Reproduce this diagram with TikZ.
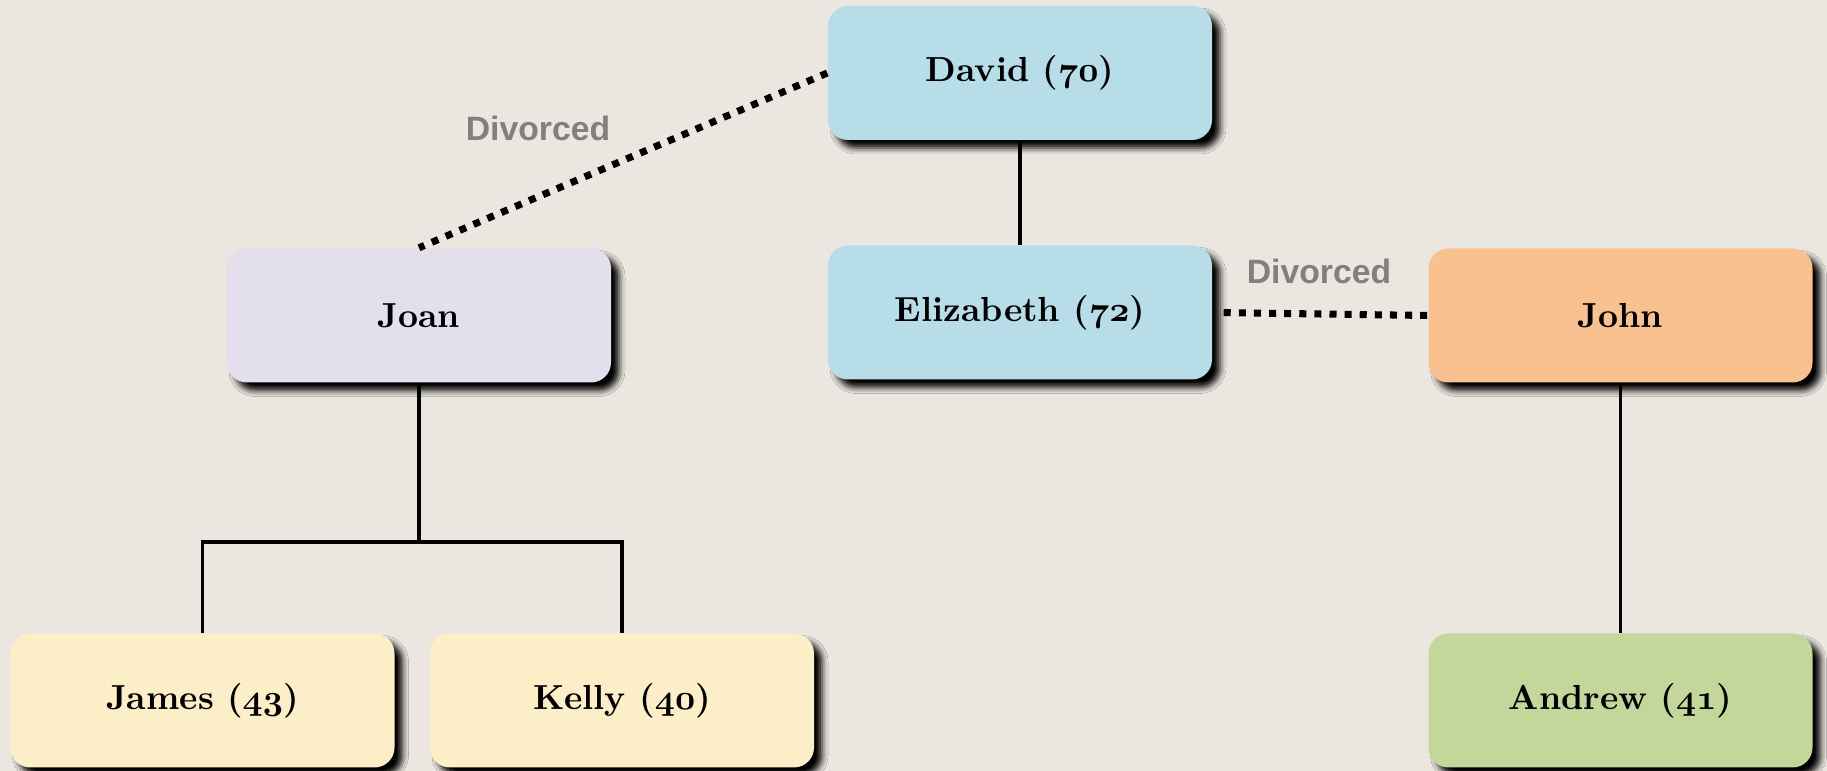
\documentclass[tikz,border=0pt]{standalone}
\usepackage{fontspec}
\newfontfamily\divfont{Liberation Sans}
\usetikzlibrary{shadows.blur}
\definecolor{fondo}{HTML}{EBE7E0}
\definecolor{azul}{HTML}{B7DDE8}
\definecolor{lila}{HTML}{E4DFEC}
\definecolor{melon}{HTML}{F9C090}
\definecolor{crema}{HTML}{FCEFC8}
\definecolor{oliva}{HTML}{C4D79B}
\newcommand{\edad}[1]{{\usefont{OML}{cmm}{b}{it}#1}}
\begin{document}
\begin{tikzpicture}[x=1cm, y=1cm,
    caja/.style={rounded corners=0.2cm, minimum width=3.84cm, minimum height=1.34cm, inner sep=0pt,
        font=\fontsize{9.9}{12}\selectfont\bfseries,
        blur shadow={shadow xshift=0.08cm, shadow yshift=-0.08cm, shadow blur radius=0.06cm, shadow opacity=100}},
    linea/.style={line width=0.9pt, black},
    divorcio/.style={line width=2pt, black, dash pattern=on 2pt off 2.3pt},
    nota/.style={font=\divfont\fontsize{9.6}{12}\selectfont\bfseries, text=black!50}]
        % fondo
        \fill[fondo] (0, 0) rectangle (18.27, 7.71);
        \useasboundingbox (0, 0) rectangle (18.27, 7.71);
        % padres
        \node[caja, fill=azul] (david) at (10.20, 6.98) {David (\edad{70})};
        \node[caja, fill=azul] (elizabeth) at (10.20, 4.585) {Elizabeth (\edad{72})};
        \node[caja, fill=lila] (joan) at (4.19, 4.555) {Joan};
        \node[caja, fill=melon] (john) at (16.205, 4.555) {John};
        % hijos
        \node[caja, fill=crema] (james) at (2.025, 0.705) {James (\edad{43})};
        \node[caja, fill=crema] (kelly) at (6.22, 0.705) {Kelly (\edad{40})};
        \node[caja, fill=oliva] (andrew) at (16.205, 0.705) {Andrew (\edad{41})};
        % lineas
        \coordinate (rama) at (4.19, 2.29);
        \draw[linea] (david) -- (elizabeth);
        \draw[linea] (joan) -- (rama);
        \draw[linea] (james.north) |- (rama) -| (kelly.north);
        \draw[linea] (john) -- (andrew);
        % divorcios
        \draw[divorcio] (david.west) -- (joan.north);
        \draw[divorcio, shorten <=0.11cm] (elizabeth.east) -- (john.west);
        \node[nota] (div1) at (5.38, 6.43) {Divorced};
        \node[nota] (div2) at (13.19, 5.00) {Divorced};
    \end{tikzpicture}
\end{document}
